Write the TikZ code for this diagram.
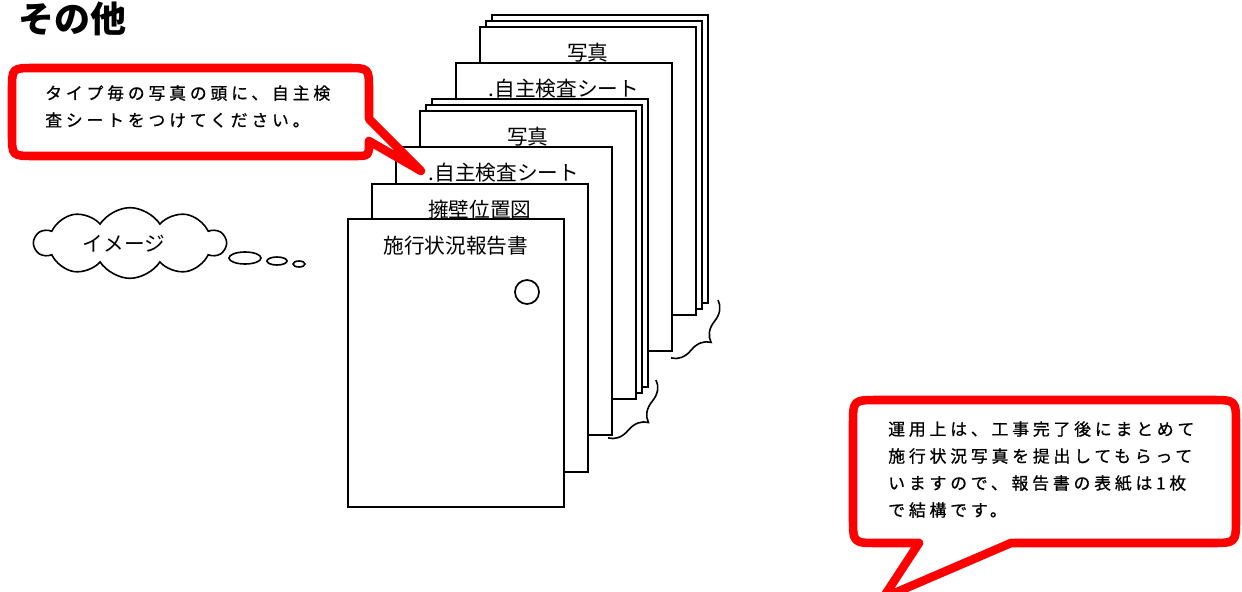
\documentclass[tikz,border=0pt]{standalone}
\usepackage{fontspec}
\newfontfamily\jp{Noto Sans CJK JP}
\newfontfamily\jpsp[LetterSpace=23,FakeBold=0.8]{Noto Sans CJK JP}
\usepackage{tikz}
\usetikzlibrary{positioning,shapes.symbols,decorations.pathreplacing}
\tikzstyle{sheet} = [rectangle, anchor=north west, minimum width=162pt, minimum height=216pt, inner sep=0pt, draw=black, fill=white, line width=1.3pt]
\tikzstyle{sheettitle} = [inner sep=0pt, font=\jp\fontsize{15.5pt}{18pt}\selectfont]
\tikzstyle{note} = [anchor=north west, align=left, inner sep=0pt, font=\jpsp\fontsize{12.6pt}{20.25pt}\selectfont]
\tikzstyle{balloon} = [draw=red, line width=6.4pt, fill=white, line join=round]
\tikzstyle{curly} = [decorate, decoration={brace, amplitude=16pt}, line width=1.2pt]
\tikzstyle{bubble} = [draw=black, line width=1.2pt]

\begin{document}
\begin{tikzpicture}[x=0.75pt, y=-0.75pt]
\useasboundingbox (0,0) rectangle (1242,592);

\node[anchor=west, font=\jp\bfseries\fontsize{27pt}{30pt}\selectfont] (title) at (14,19) {その他};

% second set of sheets (back)
\node[sheet] (p10) at (491,14) {};
\node[sheet] (p9) at (485,20) {};
\node[sheet] (p8) at (479,26) {};
\node[sheettitle] (t8) at ([yshift=-20pt]p8.north) {写真};
\node[sheet] (p7) at (455,62) {};
\node[sheettitle] (t7) at ([yshift=-20pt]p7.north) {.自主検査シート};
% first set of sheets
\node[sheet] (p6) at (431,98) {};
\node[sheet] (p5) at (425,104) {};
\node[sheet] (p4) at (419,110) {};
\node[sheettitle] (t4) at ([yshift=-20pt]p4.north) {写真};
\node[sheet] (p3) at (395,146) {};
\node[sheettitle] (t3) at ([yshift=-20pt]p3.north) {.自主検査シート};
\node[sheet] (p2) at (371,183) {};
\node[sheettitle] (t2) at ([yshift=-20pt]p2.north) {擁壁位置図};
\node[sheet] (p1) at (347,218) {};
\node[sheettitle] (t1) at ([yshift=-21pt]p1.north) {施行状況報告書};
\node[circle, draw, line width=1.3pt, minimum size=18pt, inner sep=0pt] (hole) at (527,292) {};

% braces
\coordinate (brUpA) at (718,300);
\coordinate (brUpB) at (671,358);
\coordinate (brLoA) at (656,380);
\coordinate (brLoB) at (608,438);
\draw[curly] (brUpA) -- (brUpB);
\draw[curly] (brLoA) -- (brLoB);

% thought cloud
\node[cloud, draw, line width=1.2pt, cloud puffs=10, cloud puff arc=115, cloud ignores aspect, minimum width=143pt, minimum height=53pt, inner sep=0pt] (cloud) at (130,243) {};
\node[font=\jp\fontsize{15.5pt}{18pt}\selectfont] (image) at (124,244) {イメージ};
\draw[bubble] (245,258) ellipse (16 and 6);
\draw[bubble] (277,261) ellipse (10 and 4);
\draw[bubble] (299,264) ellipse (6 and 3);

% callouts
\draw[balloon] (12,90) .. controls (12,68) .. (34,68) -- (347,68) .. controls (369,68) .. (369,90)
  -- (369,119) -- (421,171) -- (369,141) .. controls (369,156) .. (355,156)
  -- (34,156) .. controls (12,156) .. (12,134) -- cycle;
\node[note] (noteA) at (45,85) {タイプ毎の写真の頭に、自主検\\査シートをつけてください。};

\draw[balloon] (853,425) .. controls (853,400) .. (878,400) -- (1211,400) .. controls (1236,400) .. (1236,425)
  -- (1236,518) .. controls (1236,543) .. (1211,543) -- (1011,543) -- (883,598) -- (919,543)
  -- (878,543) .. controls (853,543) .. (853,518) -- cycle;
\node[note] (noteB) at (888,421) {運用上は、工事完了後にまとめて\\施行状況写真を提出してもらって\\いますので、報告書の表紙は1枚\\で結構です。};
\end{tikzpicture}
\end{document}
